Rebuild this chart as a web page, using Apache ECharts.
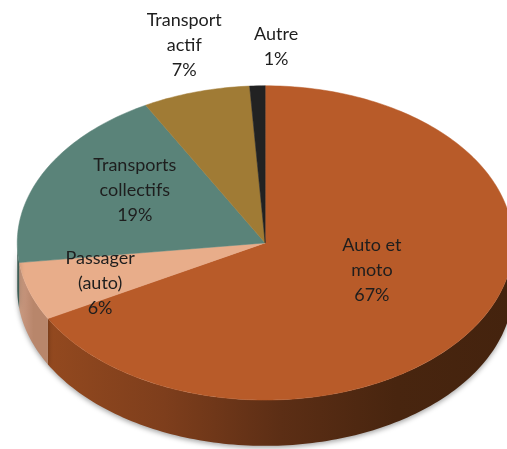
<!DOCTYPE html>
<html>
<head>
<meta charset="utf-8">
<script src="https://cdn.jsdelivr.net/npm/echarts@6/dist/echarts.min.js"></script>
<style>
  html, body { margin: 0; background: #fff; }
  #chart { width: 507px; height: 449px; }
</style>
</head>
<body>
<div id="chart"></div>
<script>
// data (percent of trips)
const categories = ['Auto et\nmoto', 'Passager\n(auto)', 'Transports\ncollectifs', 'Transport\nactif', 'Autre'];
const shares = [67, 6, 19, 7, 1];

// look
const topColors = ['#b85b29', '#e8ad8a', '#5a8379', '#a07b35', '#222222'];
const sideStops = [
    ['#93491f', '#7e3e1c', '#5c2e15', '#48250f', '#44230e'],
    ['#c99a80', '#c29077', '#b8866b', '#b8866b', '#b8866b'],
    ['#3f5e56', '#3f5e56', '#3f5e56', '#3f5e56', '#3f5e56'],
    ['#72581f', '#72581f', '#72581f', '#72581f', '#72581f'],
    ['#111111', '#111111', '#111111', '#111111', '#111111']
];
// how far out each label sits along its slice's middle angle (x, y)
const labelReach = [[0.50, 0.34], [0.70, 0.82], [0.59, 0.74], [1.17, 1.31], [-1.4, 1.25]];

const total = shares.reduce((a, b) => a + b, 0);
const starts = [];
shares.reduce((acc, v, i) => { starts[i] = acc; return acc + v; }, 0);

function renderSlice(params, api) {
    const W = api.getWidth(), H = api.getHeight();
    const cx = W * 0.523, cy = H * 0.541;
    const rx = W * 0.489, ry = H * 0.35, depth = H * 0.102;
    const i = params.dataIndex;
    const a0 = starts[i] / total * Math.PI * 2;
    const a1 = a0 + api.value(0) / total * Math.PI * 2;
    const pt = (a, dy) => [cx + rx * Math.sin(a), cy - ry * Math.cos(a) + (dy || 0)];
    const arc = (from, to, dy) => {
        const n = Math.max(2, Math.ceil((to - from) / 0.02));
        const out = [];
        for (let k = 0; k <= n; k++) out.push(pt(from + (to - from) * k / n, dy));
        return out;
    };
    const children = [];

    // outer wall, only on the front half
    const s0 = Math.max(a0, Math.PI / 2), s1 = Math.min(a1, Math.PI * 1.5);
    if (s1 > s0) {
        const wall = arc(s0, s1, 0).concat(arc(s0, s1, depth).reverse());
        const st = sideStops[i];
        children.push({
            type: 'polygon',
            shape: { points: wall },
            style: {
                fill: new echarts.graphic.LinearGradient(0, 0, 1, 0, st.map((c, k) => ({ offset: k / (st.length - 1), color: c }))),
                shadowColor: 'rgba(0,0,0,0.35)', shadowBlur: 5, shadowOffsetY: 2
            }
        });
    }

    // top face
    children.push({
        type: 'polygon',
        shape: { points: [[cx, cy]].concat(arc(a0, a1, 0)) },
        style: { fill: topColors[i], stroke: topColors[i], lineWidth: 0.5 }
    });

    // label
    const mid = (a0 + a1) / 2;
    const reach = labelReach[i];
    const pct = Math.round(api.value(0) / total * 100) + '%';
    children.push({
        type: 'text',
        z2: 100,
        style: {
            text: categories[i] + '\n' + pct,
            x: cx + rx * Math.sin(mid) * reach[0],
            y: cy - ry * Math.cos(mid) * reach[1],
            align: 'center',
            verticalAlign: 'middle',
            fontFamily: 'Lato',
            fontSize: 18,
            lineHeight: 25,
            fill: '#1e1e1e'
        }
    });
    return { type: 'group', children: children };
}

const chart = echarts.init(document.getElementById('chart'));
chart.setOption({
    animation: false,
    series: [{
        type: 'custom',
        coordinateSystem: 'none',
        renderItem: renderSlice,
        data: shares.map(v => [v])
    }]
});
</script>
</body>
</html>
